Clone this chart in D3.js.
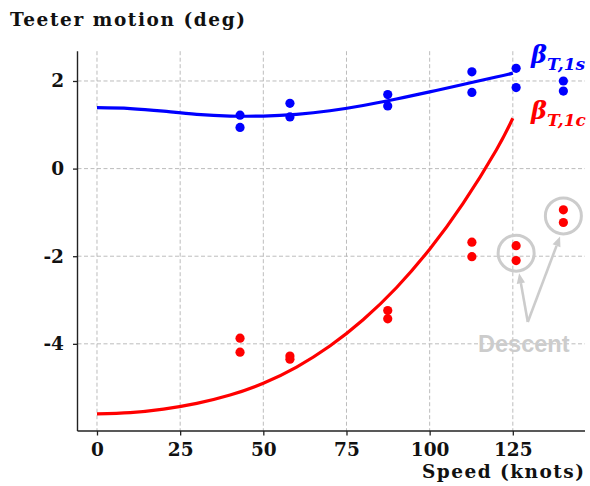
<!DOCTYPE html>
<html>
<head>
<meta charset="utf-8">
<script src="https://cdn.jsdelivr.net/npm/d3@7"></script>
<style>
  html, body { margin: 0; padding: 0; background: #fff; }
  svg { display: block; }
</style>
</head>
<body>
<svg id="chart" width="590" height="486"></svg>
<script>
// Model curves (knots vs. teeter angle, deg)
const curveSpeeds = [0, 10, 20, 30, 40, 50, 60, 70, 80, 90, 100, 110, 120, 125];
const beta1s = [1.39, 1.37, 1.31, 1.24, 1.20, 1.20, 1.24, 1.32, 1.44, 1.59, 1.75, 1.92, 2.09, 2.18];
const beta1c = [-5.60, -5.57, -5.49, -5.36, -5.17, -4.90, -4.53, -4.05, -3.45, -2.72, -1.84, -0.80, 0.42, 1.15];

// Flight-test points (two samples per speed)
const testSpeeds = [43, 58, 87.4, 112.7, 126, 140.2];
const test1sA = [1.22, 1.49, 1.69, 2.21, 2.29, 2.00];
const test1sB = [0.94, 1.18, 1.43, 1.74, 1.85, 1.77];
const test1cA = [-3.87, -4.28, -3.24, -1.68, -1.76, -0.94];
const test1cB = [-4.19, -4.35, -3.43, -2.01, -2.10, -1.23];

const xTicks = [0, 25, 50, 75, 100, 125];
const yTicks = [2, 0, -2, -4];

// Descent callout (data units)
const descentRings = [[126, -1.93], [140.2, -1.08]];
const descentArrowFrom = [129.5, -3.5];
const descentArrowTo = [[126.9, -2.39], [139.2, -1.55]];
const descentLabelAt = [128.3, -4.18];

const svg = d3.select("#chart");
const plotL = 77.5, plotR = 585, plotT = 51.2, plotB = 431;

const x = d3.scaleLinear().domain([-5.86, 146.7]).range([plotL, plotR]);
const y = d3.scaleLinear().domain([-5.99, 2.68]).range([plotB, plotT]);

const serif = "'DejaVu Serif', serif";
const GRID = "#b4b4b4";

// Grid
const grid = svg.append("g");
grid.selectAll(".vg").data(xTicks).join("line")
  .attr("x1", d => x(d)).attr("x2", d => x(d))
  .attr("y1", plotT).attr("y2", plotB)
  .attr("stroke", GRID).attr("stroke-width", 0.9).attr("stroke-dasharray", "4,2.5");
grid.selectAll(".hg").data(yTicks).join("line")
  .attr("y1", d => y(d)).attr("y2", d => y(d))
  .attr("x1", plotL).attr("x2", plotR)
  .attr("stroke", GRID).attr("stroke-width", 0.9).attr("stroke-dasharray", "4,2.5");

// Axes
const xAxis = svg.append("g").attr("transform", `translate(0,${plotB})`)
  .call(d3.axisBottom(x).tickValues(xTicks).tickSize(4.5).tickPadding(7).tickFormat(d3.format("d")));
const yAxis = svg.append("g").attr("transform", `translate(${plotL},0)`)
  .call(d3.axisLeft(y).tickValues(yTicks).tickSize(4.5).tickPadding(9).tickFormat(d => d < 0 ? "-" + Math.abs(d) : String(d)));
[xAxis, yAxis].forEach(g => {
  g.select(".domain").remove();
  g.selectAll(".tick line").attr("stroke", "#222").attr("stroke-width", 1.3);
  g.selectAll(".tick text").attr("fill", "#111")
    .style("font-family", serif).style("font-weight", "bold").style("font-size", "18.5px");
});
// Left and bottom spines
svg.append("line").attr("x1", plotL).attr("x2", plotL).attr("y1", plotT).attr("y2", plotB)
  .attr("stroke", "#222").attr("stroke-width", 1.4);
svg.append("line").attr("x1", plotL).attr("x2", plotR).attr("y1", plotB).attr("y2", plotB)
  .attr("stroke", "#222").attr("stroke-width", 1.4);

// Model curves
const line = (vals) => d3.line()
  .x((d, i) => x(curveSpeeds[i]))
  .y(d => y(d))
  .curve(d3.curveNatural)(vals);
svg.append("path").attr("d", line(beta1s)).attr("fill", "none")
  .attr("stroke", "#0000ff").attr("stroke-width", 3.2);
svg.append("path").attr("d", line(beta1c)).attr("fill", "none")
  .attr("stroke", "#ff0000").attr("stroke-width", 3.2);

// Test points
function dots(vals, color) {
  svg.append("g").selectAll("circle").data(vals).join("circle")
    .attr("cx", (d, i) => x(testSpeeds[i])).attr("cy", d => y(d))
    .attr("r", 4.6).attr("fill", color);
}
dots(test1sA, "#0000ff");
dots(test1sB, "#0000ff");
dots(test1cA, "#ff0000");
dots(test1cB, "#ff0000");

// Descent callout
const CALL = "#cccccc";
svg.append("g").selectAll("circle").data(descentRings).join("circle")
  .attr("cx", d => x(d[0])).attr("cy", d => y(d[1])).attr("r", 18)
  .attr("fill", "none").attr("stroke", CALL).attr("stroke-width", 3);
descentArrowTo.forEach(t => {
  const x0 = x(descentArrowFrom[0]), y0 = y(descentArrowFrom[1]);
  const x1 = x(t[0]), y1 = y(t[1]);
  const ang = Math.atan2(y1 - y0, x1 - x0);
  const hl = 10, hw = 4.2;
  const bx = x1 - hl * Math.cos(ang), by = y1 - hl * Math.sin(ang);
  svg.append("line").attr("x1", x0).attr("y1", y0).attr("x2", bx).attr("y2", by)
    .attr("stroke", CALL).attr("stroke-width", 2.6);
  svg.append("polygon")
    .attr("points", [
      [x1, y1],
      [bx + hw * Math.sin(ang), by - hw * Math.cos(ang)],
      [bx - hw * Math.sin(ang), by + hw * Math.cos(ang)]
    ].map(p => p.join(",")).join(" "))
    .attr("fill", CALL);
});
svg.append("text").attr("x", x(descentLabelAt[0])).attr("y", y(descentLabelAt[1]))
  .attr("text-anchor", "middle").attr("fill", CALL)
  .style("font-family", "'Liberation Sans', Arial, sans-serif").style("font-weight", "bold")
  .style("font-size", "23.5px").text("Descent");

// Series labels
function betaLabel(sub, color, by) {
  const t = svg.append("text").attr("x", 531).attr("y", by).attr("fill", color)
    .style("font-family", serif).style("font-weight", "bold").style("font-style", "italic");
  t.append("tspan").style("font-size", "24px").text("β");
  t.append("tspan").attr("dy", 7).style("font-size", "17px").text(sub);
}
betaLabel("T,1s", "#0000ff", 63);
betaLabel("T,1c", "#ff0000", 119);

// Axis titles
svg.append("text").attr("x", 10).attr("y", 25.7).attr("fill", "#111")
  .attr("textLength", 235)
  .style("font-family", serif).style("font-weight", "bold").style("font-size", "18.5px")
  .text("Teeter motion (deg)");
svg.append("text").attr("x", 584).attr("y", 477.7).attr("text-anchor", "end").attr("fill", "#111")
  .attr("textLength", 162)
  .style("font-family", serif).style("font-weight", "bold").style("font-size", "18.5px")
  .text("Speed (knots)");
</script>
</body>
</html>
